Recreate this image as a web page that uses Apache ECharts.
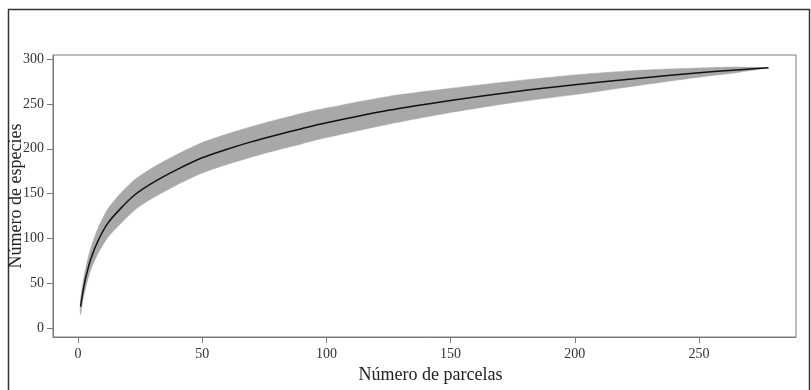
<!DOCTYPE html>
<html>
<head>
<meta charset="utf-8">
<script src="https://cdn.jsdelivr.net/npm/echarts@6/dist/echarts.min.js"></script>
<style>
html,body{margin:0;padding:0;background:#fff;}
#chart{width:811px;height:390px;}
</style>
</head>
<body>
<div id="chart"></div>
<script>
// Data
const parcelas = [1, 2, 3, 5, 8, 12, 17, 23, 30, 40, 50, 60, 70, 80, 90, 100, 125, 150, 175, 200, 225, 250, 265, 278];
const especiesMedia = [24, 41, 55, 76, 97, 117, 133, 149, 162, 177, 190, 199.5, 208, 215.5, 222.5, 229, 243, 254, 263.5, 271.5, 278.5, 284.8, 288, 290.5];
const especiesSuperior = [31, 51, 66, 88, 111, 133, 150, 166, 179, 194, 207, 216.5, 225, 232.5, 239.5, 245.5, 258.5, 267.5, 275.5, 282.5, 287.5, 290.2, 291.2, 290.5];
const especiesInferior = [15, 31, 44, 64, 83, 101, 116, 132, 145, 160, 173, 182.5, 191, 198.5, 205.5, 212.5, 227.5, 240.5, 251.5, 260.5, 270.5, 280, 285, 290.5];
const xTicks = [0, 50, 100, 150, 200, 250];
const yTicks = [0, 50, 100, 150, 200, 250, 300];
const xTitle = 'Número de parcelas';
const yTitle = 'Número de especies';

const meanData = parcelas.map((x, i) => [x, especiesMedia[i]]);
const bandRows = parcelas.map((x, i) => [x, especiesInferior[i], especiesSuperior[i]]);

function renderBand(params, api) {
  if (params.dataIndex !== 0) return null;
  const pts = [];
  for (let i = 0; i < parcelas.length; i++) pts.push(api.coord([parcelas[i], especiesSuperior[i]]));
  for (let i = parcelas.length - 1; i >= 0; i--) pts.push(api.coord([parcelas[i], especiesInferior[i]]));
  return {
    type: 'polygon',
    shape: {points: pts, smooth: 0.25},
    style: {fill: '#a8a8a8', stroke: '#a8a8a8', lineWidth: 0.5}
  };
}

const serif = "'Liberation Serif', 'DejaVu Serif', serif";
const chart = echarts.init(document.getElementById('chart'), null, {renderer: 'canvas'});
chart.setOption({
  animation: false,
  backgroundColor: '#ffffff',
  grid: {left: 53, right: 15, top: 55, bottom: 53, outerBoundsMode: 'none', containLabel: false,
         show: true, borderColor: '#7a7a7a', borderWidth: 1, backgroundColor: 'transparent'},
  graphic: [{
    type: 'rect', silent: true, z: -1,
    shape: {x: 8.5, y: 9.5, width: 801, height: 400},
    style: {fill: 'none', stroke: '#333333', lineWidth: 1.5}
  }, {
    type: 'text', silent: true, z: 10,
    x: 16, y: 196, rotation: Math.PI / 2,
    style: {text: yTitle, font: "18px 'Liberation Serif', 'DejaVu Serif', serif", fill: '#222',
            align: 'center', verticalAlign: 'middle'}
  }],
  xAxis: {
    type: 'value', min: -10.08, max: 289.08,
    name: xTitle, nameLocation: 'middle', nameGap: 26,
    nameTextStyle: {fontFamily: serif, fontSize: 18, color: '#222', padding: [0, 0, 0, 12]},
    axisLine: {show: true, onZero: false, lineStyle: {color: '#7a7a7a', width: 1}},
    axisTick: {show: true, inside: false, length: 6, lineStyle: {color: '#7a7a7a'}, customValues: xTicks},
    axisLabel: {fontFamily: serif, fontSize: 14, color: '#333', margin: 10, customValues: xTicks},
    splitLine: {show: false}
  },
  yAxis: {
    type: 'value', min: -10, max: 304.7,
    axisLine: {show: true, onZero: false, lineStyle: {color: '#7a7a7a', width: 1}},
    axisTick: {show: true, inside: false, length: 6, lineStyle: {color: '#7a7a7a'}, customValues: yTicks},
    axisLabel: {fontFamily: serif, fontSize: 14, color: '#333', margin: 9, customValues: yTicks},
    splitLine: {show: false}
  },
  series: [
    {
      type: 'custom', name: 'banda', data: bandRows, renderItem: renderBand,
      encode: {x: 0, y: [1, 2]}, silent: true, z: 1
    },
    {
      type: 'line', name: 'media', data: meanData,
      symbol: 'none', smooth: 0.3, lineStyle: {color: '#111111', width: 1.5}, z: 3
    }
  ]
});
</script>
</body>
</html>
